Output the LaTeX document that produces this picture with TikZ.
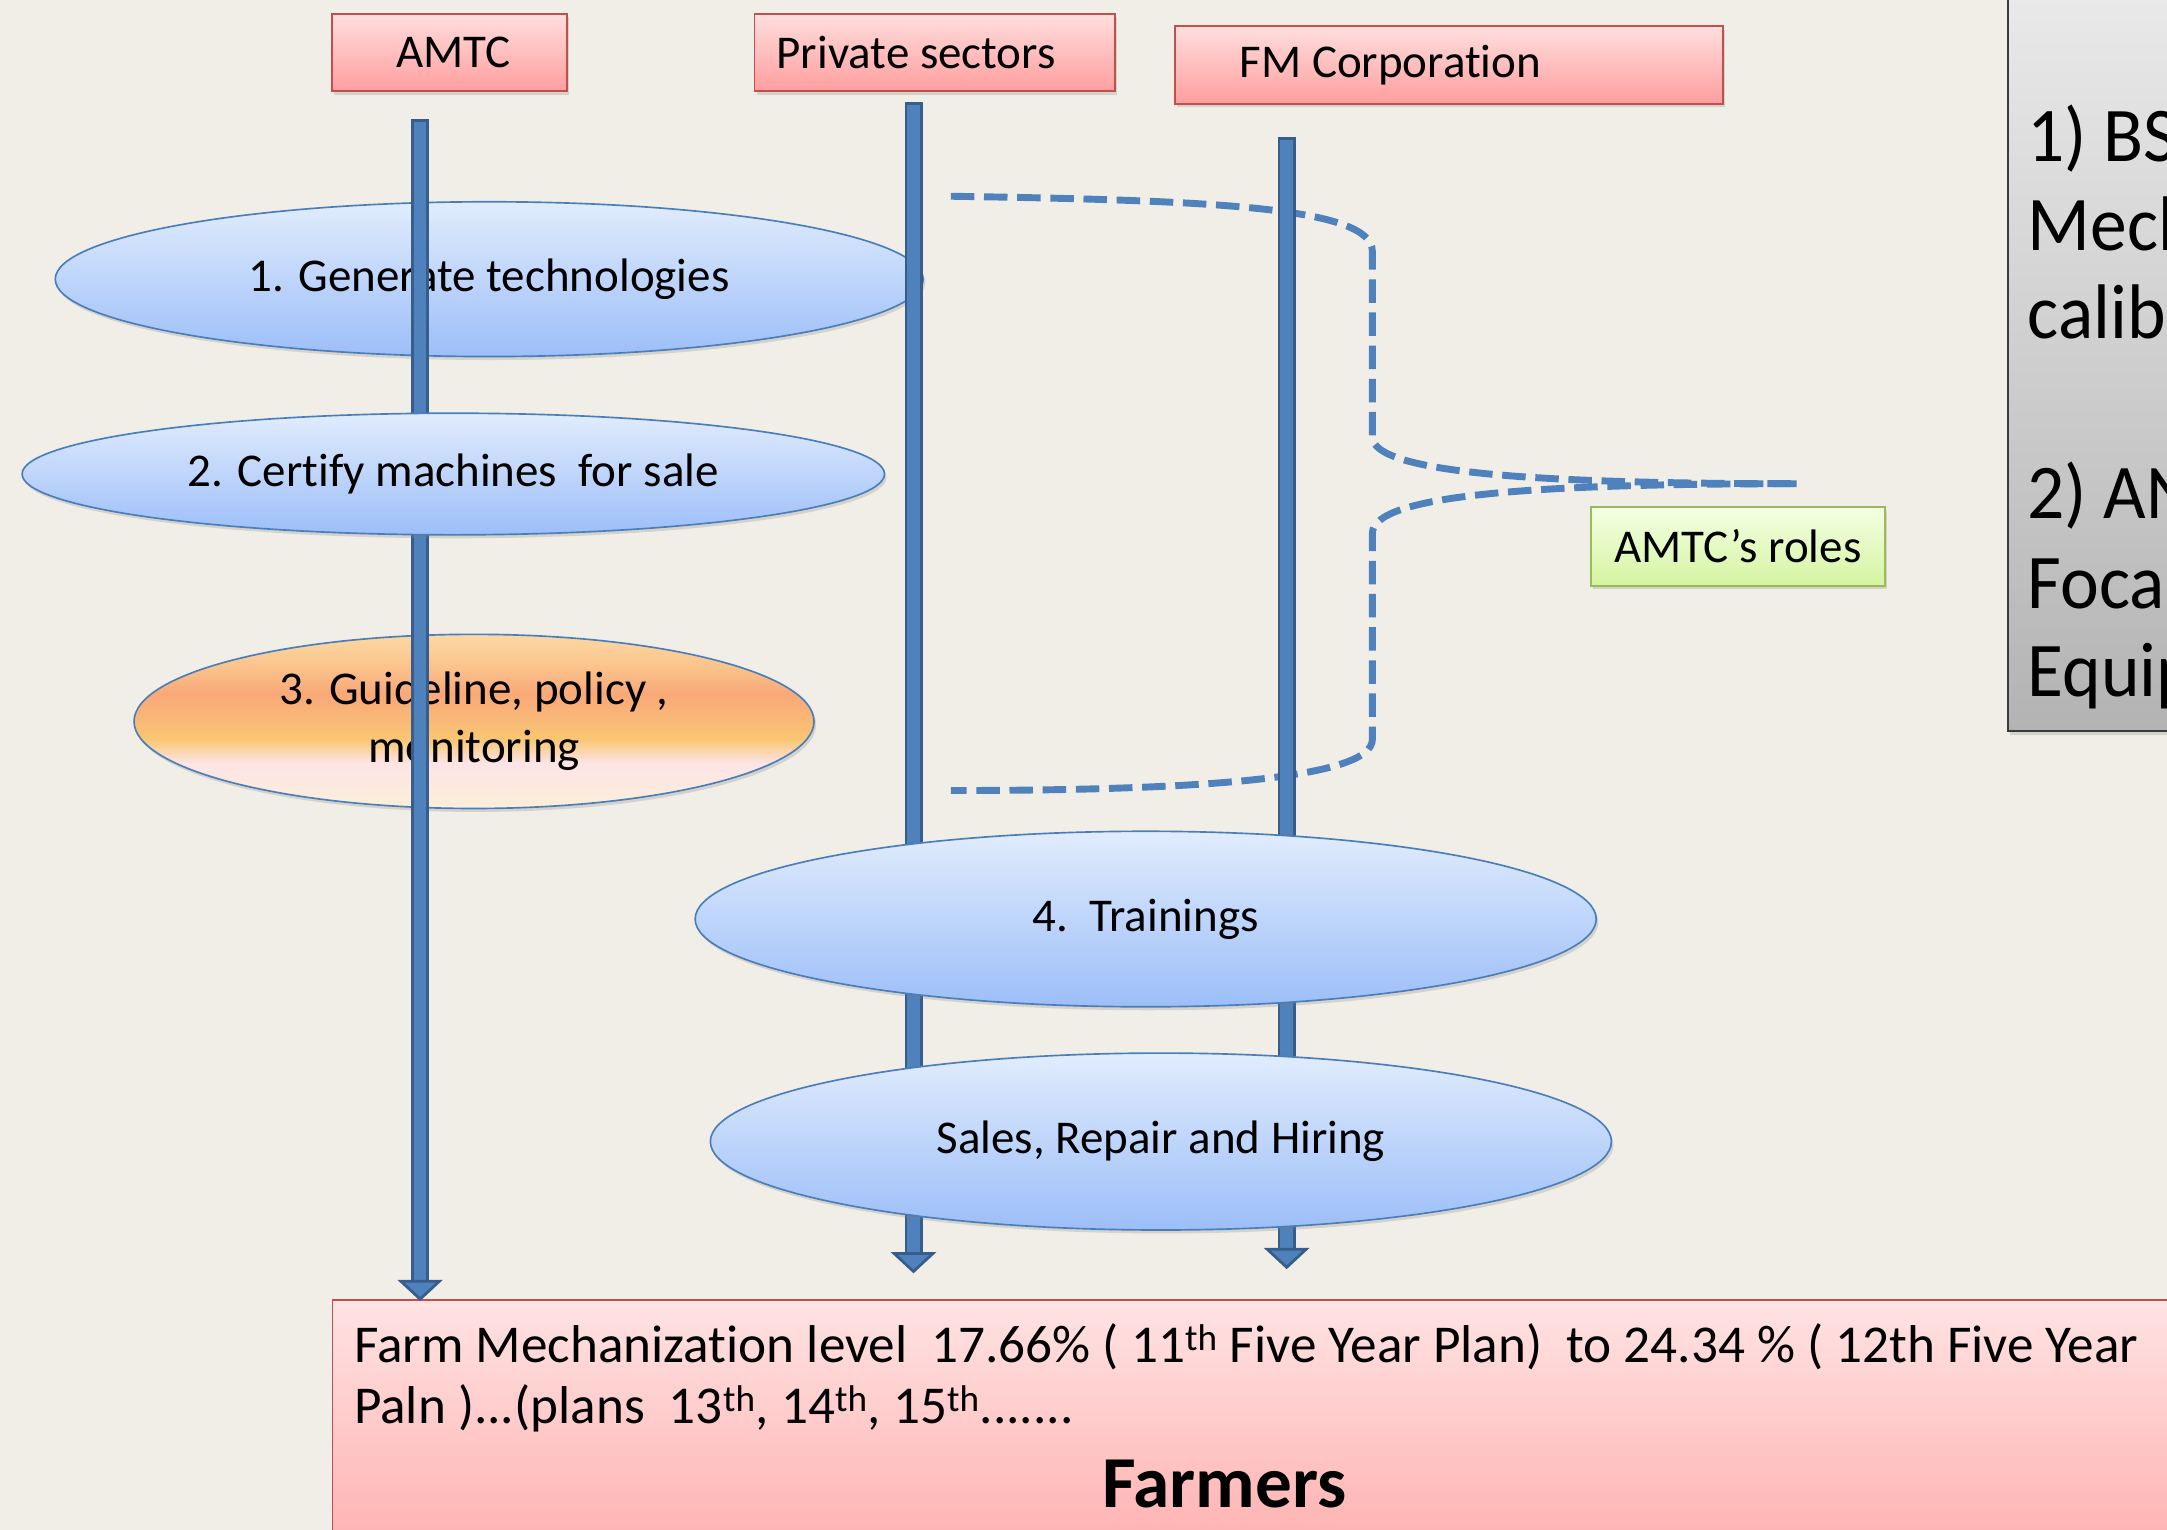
\documentclass[tikz,border=0pt]{standalone}
\usepackage{fontspec}
\setmainfont{Carlito}[Ligatures=NoCommon]
\newfontfamily\notefont{Carlito}[Ligatures=NoCommon, FakeStretch=0.95]
\usetikzlibrary{shapes.geometric,shadows,calc}
\definecolor{bg}{HTML}{F1EEE7}
\definecolor{lineblue}{HTML}{4F81BD}
\definecolor{linedark}{HTML}{385D8A}
\definecolor{pinktop}{HTML}{FFDEDE}
\definecolor{pinkbot}{HTML}{FF9E9E}
\definecolor{redborder}{HTML}{C0504D}
\definecolor{bluetop}{HTML}{E1ECFD}
\definecolor{bluebot}{HTML}{9CBEF8}
\definecolor{blueborder}{HTML}{4A7EBB}
\definecolor{greentop}{HTML}{F4FFE4}
\definecolor{greenbot}{HTML}{D5F4A0}
\definecolor{greenborder}{HTML}{9BBB59}
\definecolor{graytop}{HTML}{EDEDED}
\definecolor{graybot}{HTML}{B3B3B3}
\definecolor{grayborder}{HTML}{3A3A3A}
\definecolor{farmtop}{HTML}{FFE3E3}
\definecolor{farmbot}{HTML}{FFA3A3}
\definecolor{oa}{HTML}{FCEFD9}
\definecolor{ob}{HTML}{FDE4E6}
\definecolor{oc}{HTML}{F9C672}
\definecolor{od}{HTML}{F9B777}
\definecolor{oe}{HTML}{F9A878}
\definecolor{of}{HTML}{FBC48D}
\definecolor{og}{HTML}{FCD8A3}
\pgfdeclareverticalshading{orangeshade}{100bp}{color(0bp)=(oa); color(25bp)=(oa); color(38bp)=(ob); color(45bp)=(oc); color(51bp)=(od); color(58bp)=(oe); color(66bp)=(of); color(75bp)=(og); color(100bp)=(og)}
\newcommand\blockarrow[2]{%
  \draw[draw=linedark, fill=lineblue, line width=2pt] ($(#1)+(-5.5,0)$) rectangle ($(#2)+(5.5,-12)$);
  \filldraw[fill=lineblue, draw=linedark, line width=2pt, line join=miter] ($(#2)+(-14,-13)$) -- (#2) -- ($(#2)+(14,-13)$) -- cycle;
}
\tikzset{
  shad/.style={drop shadow={opacity=0.25, shadow xshift=1.5pt, shadow yshift=-2.5pt}},
  txt/.style={font=\fontsize{34}{42}\selectfont},
  hdr/.style={rectangle, draw=redborder, line width=1.3pt, top color=pinktop, bottom color=pinkbot, minimum height=56pt, txt, shad},
  oval/.style={ellipse, draw=blueborder, line width=1.2pt, top color=bluetop, bottom color=bluebot, inner sep=0pt, txt, align=center, shad},
  orangeoval/.style={ellipse, draw=blueborder, line width=1.2pt, shading=orangeshade, inner sep=0pt, txt, align=center, shad},
  rolebox/.style={rectangle, draw=greenborder, line width=1.3pt, top color=greentop, bottom color=greenbot, txt, shad},
  graybox/.style={rectangle, draw=grayborder, line width=1.5pt, top color=graytop, bottom color=graybot, shad},
  farmbox/.style={rectangle, draw=redborder, line width=1.3pt, top color=farmtop, bottom color=farmbot},
  dashline/.style={draw=lineblue, line width=5pt, dash pattern=on 17pt off 7pt},
  plain/.style={inner sep=0pt, anchor=base west},
  farmtxt/.style={plain, font=\fontsize{38.5}{46}\selectfont},
  bigtxt/.style={plain, font=\notefont\fontsize{56}{66}\selectfont},
}
\begin{document}
\begin{tikzpicture}[x=1pt, y=-1pt]
\useasboundingbox (0,0) rectangle (1568,1107);
\clip (0,0) rectangle (1568,1107);
\fill[bg] (0,0) rectangle (1568,1107);

% right grey note box
\node[graybox, minimum width=220pt, minimum height=570pt, anchor=south west] (notes) at (1452,530) {};
\node[bigtxt] (n1) at (1467,117) {1) BS};
\node[bigtxt] (n2) at (1467,181) {Mech};
\node[bigtxt] (n3) at (1467,245) {calib};
\node[bigtxt] (n4) at (1467,375) {2) AN};
\node[bigtxt] (n5) at (1467,440) {Foca};
\node[bigtxt] (n6) at (1467,504) {Equip};

% headers
\node[hdr, minimum width=170pt] (amtc) at (325,38) {\hspace*{6pt}AMTC};
\node[hdr, text width=229pt, inner xsep=16pt, align=flush left] (priv) at (676.5,38) {Private sectors};
\node[hdr, text width=303pt, inner xsep=47pt, align=flush left] (fm) at (1048.5,47) {FM Corporation};

% farmers box
\node[farmbox, minimum width=1400pt, minimum height=230pt, anchor=north west] (farm) at (240,940) {};
\node[farmtxt] (l1) at (256,986) {Farm Mechanization level\ \ 17.66\% ( 11\textsuperscript{th} Five Year Plan)\ \ to 24.34 \% ( 12th Five Year};
\node[farmtxt] (l2) at (256,1030) {Paln )...(plans\ \ 13\textsuperscript{th}, 14\textsuperscript{th}, 15\textsuperscript{th}.......};
\node[inner sep=0pt, anchor=base, font=\fontsize{53}{60}\selectfont\bfseries] (farmers) at (886,1091) {Farmers};

% ellipses behind the lines
\node[oval, minimum width=628pt, minimum height=112pt] (e1) at (354,202) {1. Generate technologies};
\node[orangeoval, minimum width=492pt, minimum height=126pt] (e3) at (343,522) {3. Guideline, policy ,\\ monitoring};

% dashed brace
\coordinate (bT) at (688,142);
\coordinate (bB) at (688,572);
\coordinate (bTip) at (1300,350);
\path[dashline] (bT) .. controls (880,145) and (993,150) .. (993,182) -- (993,316) .. controls (993,342) and (1110,350) .. (bTip);
\path[dashline] (bTip) .. controls (1110,350) and (993,358) .. (993,386) -- (993,535) .. controls (993,562) and (880,572) .. (bB);

% vertical arrows
\coordinate (aS) at (304,87);
\coordinate (aE) at (aS |- farm.north);
\coordinate (pS) at (661,75);
\coordinate (pE) at (661,920);
\coordinate (fS) at (931,100);
\coordinate (fE) at (931,917);
\blockarrow{aS}{aE}
\blockarrow{pS}{pE}
\blockarrow{fS}{fE}

% ellipses in front of the lines
\node[oval, minimum width=624pt, minimum height=88pt] (e2) at (328,343) {2. Certify machines\ \ for sale};
\node[oval, minimum width=652pt, minimum height=127pt] (e4) at (829,665) {4.\ \ Trainings};
\node[oval, minimum width=652pt, minimum height=128pt] (e5) at (840,826) {Sales, Repair and Hiring};

% AMTC roles label
\node[rolebox, minimum width=213pt, minimum height=57pt] (roles) at (1257.5,395.5) {AMTC’s roles};
\end{tikzpicture}
\end{document}
